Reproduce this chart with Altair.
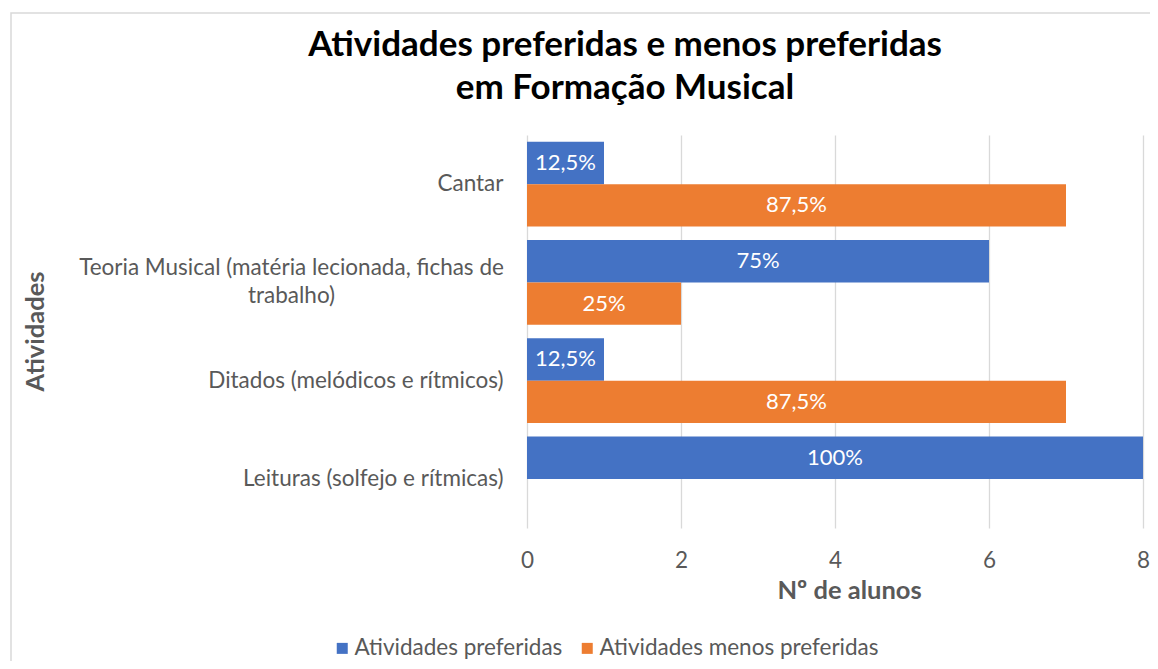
import altair as alt
import pandas as pd

# ---- data ----
categories = [
    "Cantar",
    "Teoria Musical (matéria lecionada, fichas de trabalho)",
    "Ditados (melódicos e rítmicos)",
    "Leituras (solfejo e rítmicas)",
]
series = ["Atividades preferidas", "Atividades menos preferidas"]
preferidas = [1, 6, 1, 8]
menos_preferidas = [7, 2, 7, 0]
pct_preferidas = ["12,5%", "75%", "12,5%", "100%"]
pct_menos_preferidas = ["87,5%", "25%", "87,5%", "0%"]
x_ticks = [0, 2, 4, 6, 8]
colors = ["#4472C4", "#ED7D31"]

title_lines = ["Atividades preferidas e menos preferidas", "em Formação Musical"]

# the long category label is wrapped over two lines, both centred
long_cat = categories[1]
long_line1 = "Teoria Musical (matéria lecionada, fichas de"
long_line2 = "trabalho)"

rows = []
for cat, v, p in zip(categories, preferidas, pct_preferidas):
    rows.append({"Atividade": cat, "Serie": series[0], "Valor": v, "Pct": p})
for cat, v, p in zip(categories, menos_preferidas, pct_menos_preferidas):
    rows.append({"Atividade": cat, "Serie": series[1], "Valor": v, "Pct": p})
df = pd.DataFrame(rows)
df = df[df["Valor"] > 0]

FONT = "Lato"
GRAY = "#595959"
LABEL_SIZE = 22.5

is_long = f"datum.value == '{long_cat}'"
label_expr = f"{is_long} ? ['{long_line1}', '{long_line2}'] : datum.label"

y_enc = alt.Y(
    "Atividade:N",
    sort=categories,
    scale=alt.Scale(paddingInner=0.135, paddingOuter=0.0675),
    axis=alt.Axis(
        title="Atividades",
        titleFont=FONT,
        titleFontSize=25.5,
        titleFontWeight="bold",
        titleColor=GRAY,
        titleAngle=270,
        titleX=-492,
        titleY=196,
        titleAlign="center",
        titleBaseline="middle",
        labelExpr=label_expr,
        labelFont=FONT,
        labelFontSize=LABEL_SIZE,
        labelColor=GRAY,
        labelAlign={"condition": {"test": is_long, "value": "center"}, "value": "right"},
        labelPadding={"condition": {"test": is_long, "value": 236}, "value": 24},
        labelOffset={"condition": {"test": is_long, "value": -14}, "value": 0},
        labelLineHeight=28,
        labelLimit=0,
        ticks=False,
        domain=False,
    ),
)
yoff_enc = alt.YOffset("Serie:N", sort=series, scale=alt.Scale(paddingInner=0, paddingOuter=0))

x_enc = alt.X(
    "Valor:Q",
    scale=alt.Scale(domain=[0, 8], nice=False),
    axis=alt.Axis(
        values=x_ticks,
        format="d",
        title="Nº de alunos",
        titleFont=FONT,
        titleFontSize=25.5,
        titleFontWeight="bold",
        titleColor=GRAY,
        titleX=322,
        titleY=62,
        titleBaseline="middle",
        labelFont=FONT,
        labelFontSize=LABEL_SIZE,
        labelColor=GRAY,
        labelPadding=21,
        labelFlush=False,
        grid=True,
        gridColor="#d9d9d9",
        gridWidth=1.3,
        ticks=False,
        domain=False,
    ),
)

border = alt.Chart(pd.DataFrame({"b": [0]})).mark_rect(
    filled=False, stroke="#d9d9d9", strokeWidth=1.5
).encode(
    x=alt.value(-516), x2=alt.value(700), y=alt.value(-122), y2=alt.value(600)
)

bars = alt.Chart(df).mark_bar().encode(
    y=y_enc,
    yOffset=yoff_enc,
    x=x_enc,
    color=alt.Color(
        "Serie:N",
        sort=series,
        scale=alt.Scale(domain=series, range=colors),
        legend=alt.Legend(
            title=None,
            orient="none",
            legendX=-196,
            legendY=502,
            direction="horizontal",
            symbolType="square",
            symbolSize=121,
            symbolStrokeWidth=0,
            labelFont=FONT,
            labelFontSize=LABEL_SIZE,
            labelColor=GRAY,
            labelOffset=1,
            labelLimit=0,
            columnPadding=13,
        ),
    ),
)

labels = alt.Chart(df).transform_calculate(Meio="datum.Valor / 2").mark_text(
    color="white", font=FONT, fontSize=22, baseline="middle", align="center"
).encode(
    y=alt.Y("Atividade:N", sort=categories),
    yOffset=alt.YOffset("Serie:N", sort=series),
    x=alt.X("Meio:Q"),
    text="Pct:N",
)

chart = (
    alt.layer(border, bars, labels)
    .properties(
        width=616,
        height=393,
        padding={"left": 519, "top": 127, "right": 7, "bottom": 133},
        autosize=alt.AutoSizeParams(type="none"),
        title=alt.TitleParams(
            text=title_lines,
            font=FONT,
            fontSize=35,
            fontWeight="bold",
            color="#000000",
            anchor="middle",
            frame="group",
            dx=-210,
            lineHeight=43,
            offset=-94,
        ),
        background="white",
    )
    .configure_view(stroke=None)
)

chart.save("out.html", embed_options={"renderer": "svg", "actions": False})
